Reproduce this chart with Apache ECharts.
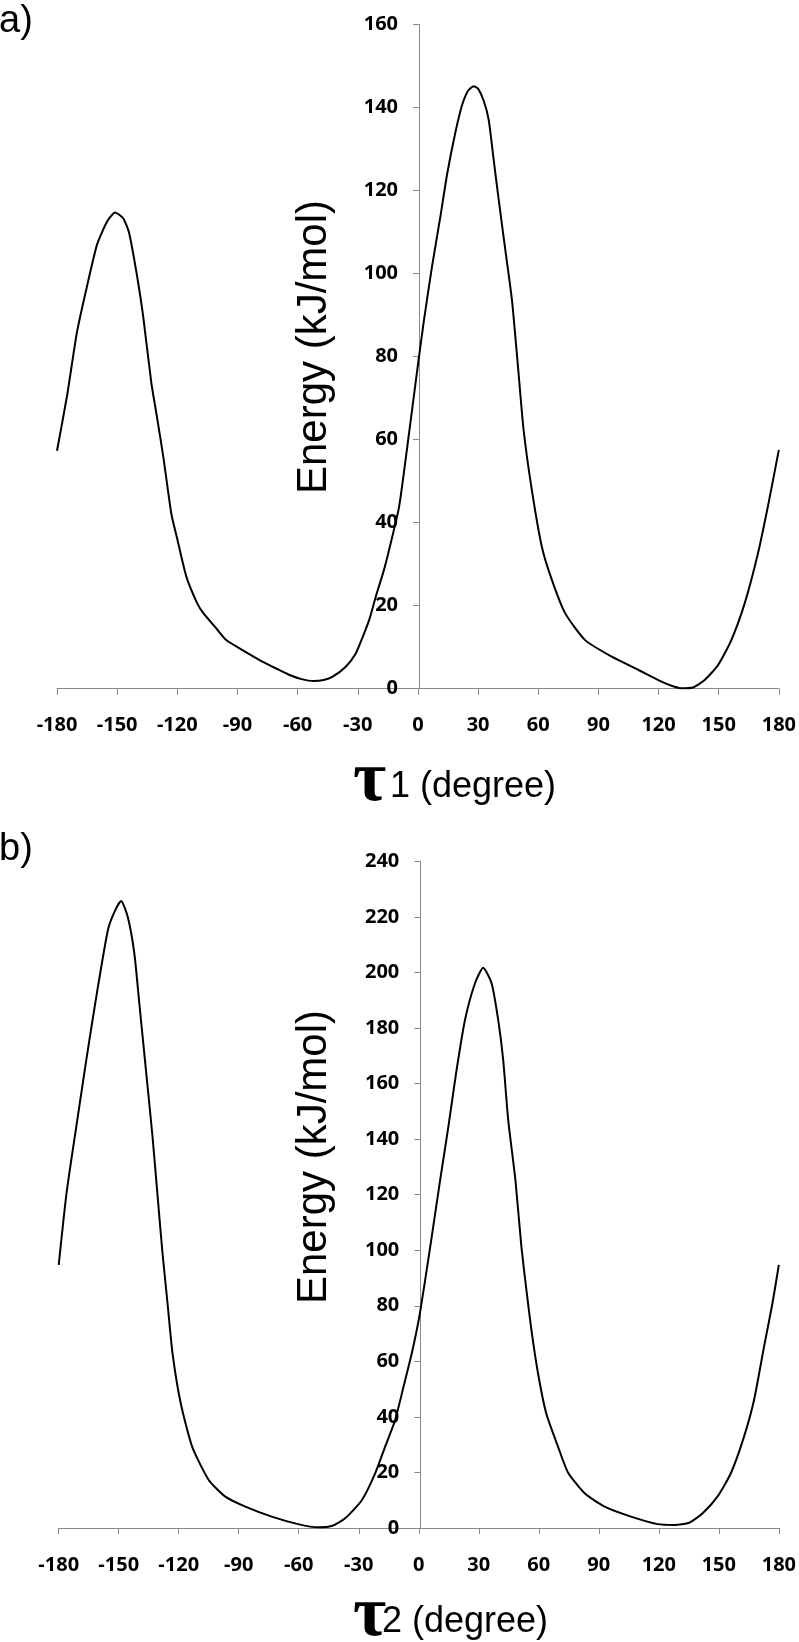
<!DOCTYPE html>
<html>
<head>
<meta charset="utf-8">
<style>html,body{margin:0;padding:0;background:#fff}#c{width:799px;height:1642px}</style>
<script src="https://cdn.jsdelivr.net/npm/echarts@6/dist/echarts.min.js"></script>
</head>
<body>
<div id="c"></div>
<script>
// Panel a: torsion tau1 (degree) vs energy (kJ/mol)
const tau1Angles = [-180,-175,-170,-165,-160,-155,-151,-147,-144,-140,-137,-133,-130,-127,-123,-120,-115.5,-110,-107,-100,-95.6,-90,-79,-70,-64,-58,-52,-47,-42.5,-36,-31,-27.5,-24,-21,-17,-14.4,-9.4,-5.3,0,3,7,11.3,14.6,18.7,22,25,27.8,30,32.8,35.3,37.8,40.3,43.6,46.9,50,52.7,56.8,61.8,66.8,73.4,83.4,96.7,110,121.5,126,131.4,137.2,143,149.7,156.3,163,169.6,174.5,180];
const tau1Energy = [57.3,70.5,86,97,107,112.5,114.7,113.3,109.7,99.2,89.6,73.8,65,55.9,42.2,36,27,20.5,18.2,14.2,11.7,10,6.9,4.7,3.3,2.3,1.85,2.1,2.9,5.3,8.5,12.5,17,22.2,28.5,33.4,43.8,58.3,78,88.7,101.6,114,124,134,140.5,144,145.1,144.5,141.6,137,127.3,117.7,105.6,93.6,77,62.3,47.9,34.2,26.2,18.2,11.7,7.7,4.5,1.7,0.8,0.1,0.3,2.1,5.7,11.7,20.6,32.6,43.8,57.5];

// Panel b: torsion tau2 (degree) vs energy (kJ/mol)
const tau2Angles = [-180,-176.1,-171.2,-166.2,-161.2,-155.4,-152,-148.8,-145.5,-142.2,-139.7,-136.4,-133.1,-129.8,-128.1,-125.6,-123.1,-119,-113.3,-105,-96.7,-86.7,-73.5,-60.3,-50.4,-43.5,-36.8,-28.5,-21.8,-16.8,-11.8,-7.6,-3.5,0,3.2,6.5,10.7,14.8,18.9,23.1,28.1,32.2,36.4,39.7,42.2,44.7,48.3,51.3,53.8,56.3,59.6,63.7,69.6,74.6,82.9,92.9,106.1,119.4,127.8,135.2,141.9,149.3,156,162.6,167.6,172.6,176.8,180];
const tau2Energy = [94.7,120.5,144.5,168.5,191.3,215.3,222,225.7,220,206.9,188.9,164.9,140.9,113,98.9,80.9,62.9,44.9,29.3,17.3,11.3,7.7,4.1,1.4,0.25,0.7,3.5,10,19.7,29.3,38.9,50.9,62.9,75,89.3,105,125.3,144.5,164.9,182.9,196.1,201.7,196.1,182.9,168.5,146.9,125.3,101.3,85.7,71.3,55.7,41.3,29.3,20,12.5,7.7,4.1,1.4,1.1,1.9,5.3,11.3,19.7,32.9,46.1,65.3,80.9,94.7];

// Axis ranges / tick steps
const xRange = {min: -180, max: 180, step: 30};
const yRangeA = {min: 0, max: 160, step: 20};
const yRangeB = {min: 0, max: 240, step: 20};

const panelLabels = ['a)', 'b)'];
const yTitle = 'Energy (kJ/mol)';
const xTitleSym = 'τ';
const xTitleRest = ['1 (degree)', '2 (degree)'];

const axisGrey = '#8a8a8a';
const tickFont = {fontFamily: 'Open Sans', fontWeight: 'bold', fontSize: 20, color: '#000'};

function xAxisCfg(gi) {
  return {
    type: 'value', gridIndex: gi, min: xRange.min, max: xRange.max, interval: xRange.step,
    axisLine: {show: true, onZero: false, lineStyle: {color: axisGrey, width: 1}},
    axisTick: {show: true, length: 6, lineStyle: {color: axisGrey}},
    axisLabel: Object.assign({margin: 27, showMinLabel: true, showMaxLabel: true}, tickFont),
    splitLine: {show: false}
  };
}
function yAxisCfg(gi, r, off) {
  return {
    type: 'value', gridIndex: gi, position: 'left', offset: off,
    min: r.min, max: r.max, interval: r.step,
    axisLine: {show: true, onZero: false, lineStyle: {color: axisGrey, width: 1}},
    axisTick: {show: true, length: 6, lineStyle: {color: axisGrey}},
    axisLabel: Object.assign({margin: 21}, tickFont),
    splitLine: {show: false}
  };
}

const chart = echarts.init(document.getElementById('c'), null, {renderer: 'canvas'});
const labelFont = '"Liberation Sans", Arial, sans-serif';
const serifFont = '"Liberation Serif", "Times New Roman", serif';

chart.setOption({
  animation: false,
  backgroundColor: '#fff',
  grid: [
    {left: 57, right: 18, top: 24.3, height: 664.4},
    {left: 58.7, right: 17.3, top: 861.3, height: 666.7}
  ],
  xAxis: [xAxisCfg(0), xAxisCfg(1)],
  yAxis: [yAxisCfg(0, yRangeA, -362), yAxisCfg(1, yRangeB, -361.6)],
  series: [
    {type: 'line', xAxisIndex: 0, yAxisIndex: 0, showSymbol: false, smooth: 0.2,
     lineStyle: {color: '#000', width: 2}, data: tau1Angles.map((a, i) => [a, tau1Energy[i]])},
    {type: 'line', xAxisIndex: 1, yAxisIndex: 1, showSymbol: false, smooth: 0.2,
     lineStyle: {color: '#000', width: 2}, data: tau2Angles.map((a, i) => [a, tau2Energy[i]])}
  ],
  graphic: [
    {type: 'text', style: {text: panelLabels[0], x: -1, y: 22, font: '38px ' + labelFont, fill: '#000', align: 'left', verticalAlign: 'middle'}},
    {type: 'text', style: {text: panelLabels[1], x: -1, y: 850, font: '38px ' + labelFont, fill: '#000', align: 'left', verticalAlign: 'middle'}},
    {type: 'text', x: 314, y: 347, rotation: Math.PI / 2, style: {text: yTitle, x: 0, y: 0, font: '42px ' + labelFont, fill: '#000', align: 'center', verticalAlign: 'middle'}},
    {type: 'text', x: 314, y: 1157, rotation: Math.PI / 2, style: {text: yTitle, x: 0, y: 0, font: '42px ' + labelFont, fill: '#000', align: 'center', verticalAlign: 'middle'}},
    {type: 'text', style: {text: xTitleSym, x: 353, y: 817, font: 'bold 72px ' + serifFont, fill: '#000', align: 'left', verticalAlign: 'bottom'}},
    {type: 'text', style: {text: xTitleRest[0], x: 390, y: 787.5, font: '36px ' + labelFont, fill: '#000', align: 'left', verticalAlign: 'middle'}},
    {type: 'text', style: {text: xTitleSym, x: 353, y: 1652, font: 'bold 72px ' + serifFont, fill: '#000', align: 'left', verticalAlign: 'bottom'}},
    {type: 'text', style: {text: xTitleRest[1], x: 382, y: 1622, font: '36px ' + labelFont, fill: '#000', align: 'left', verticalAlign: 'middle'}}
  ]
});
</script>
</body>
</html>
